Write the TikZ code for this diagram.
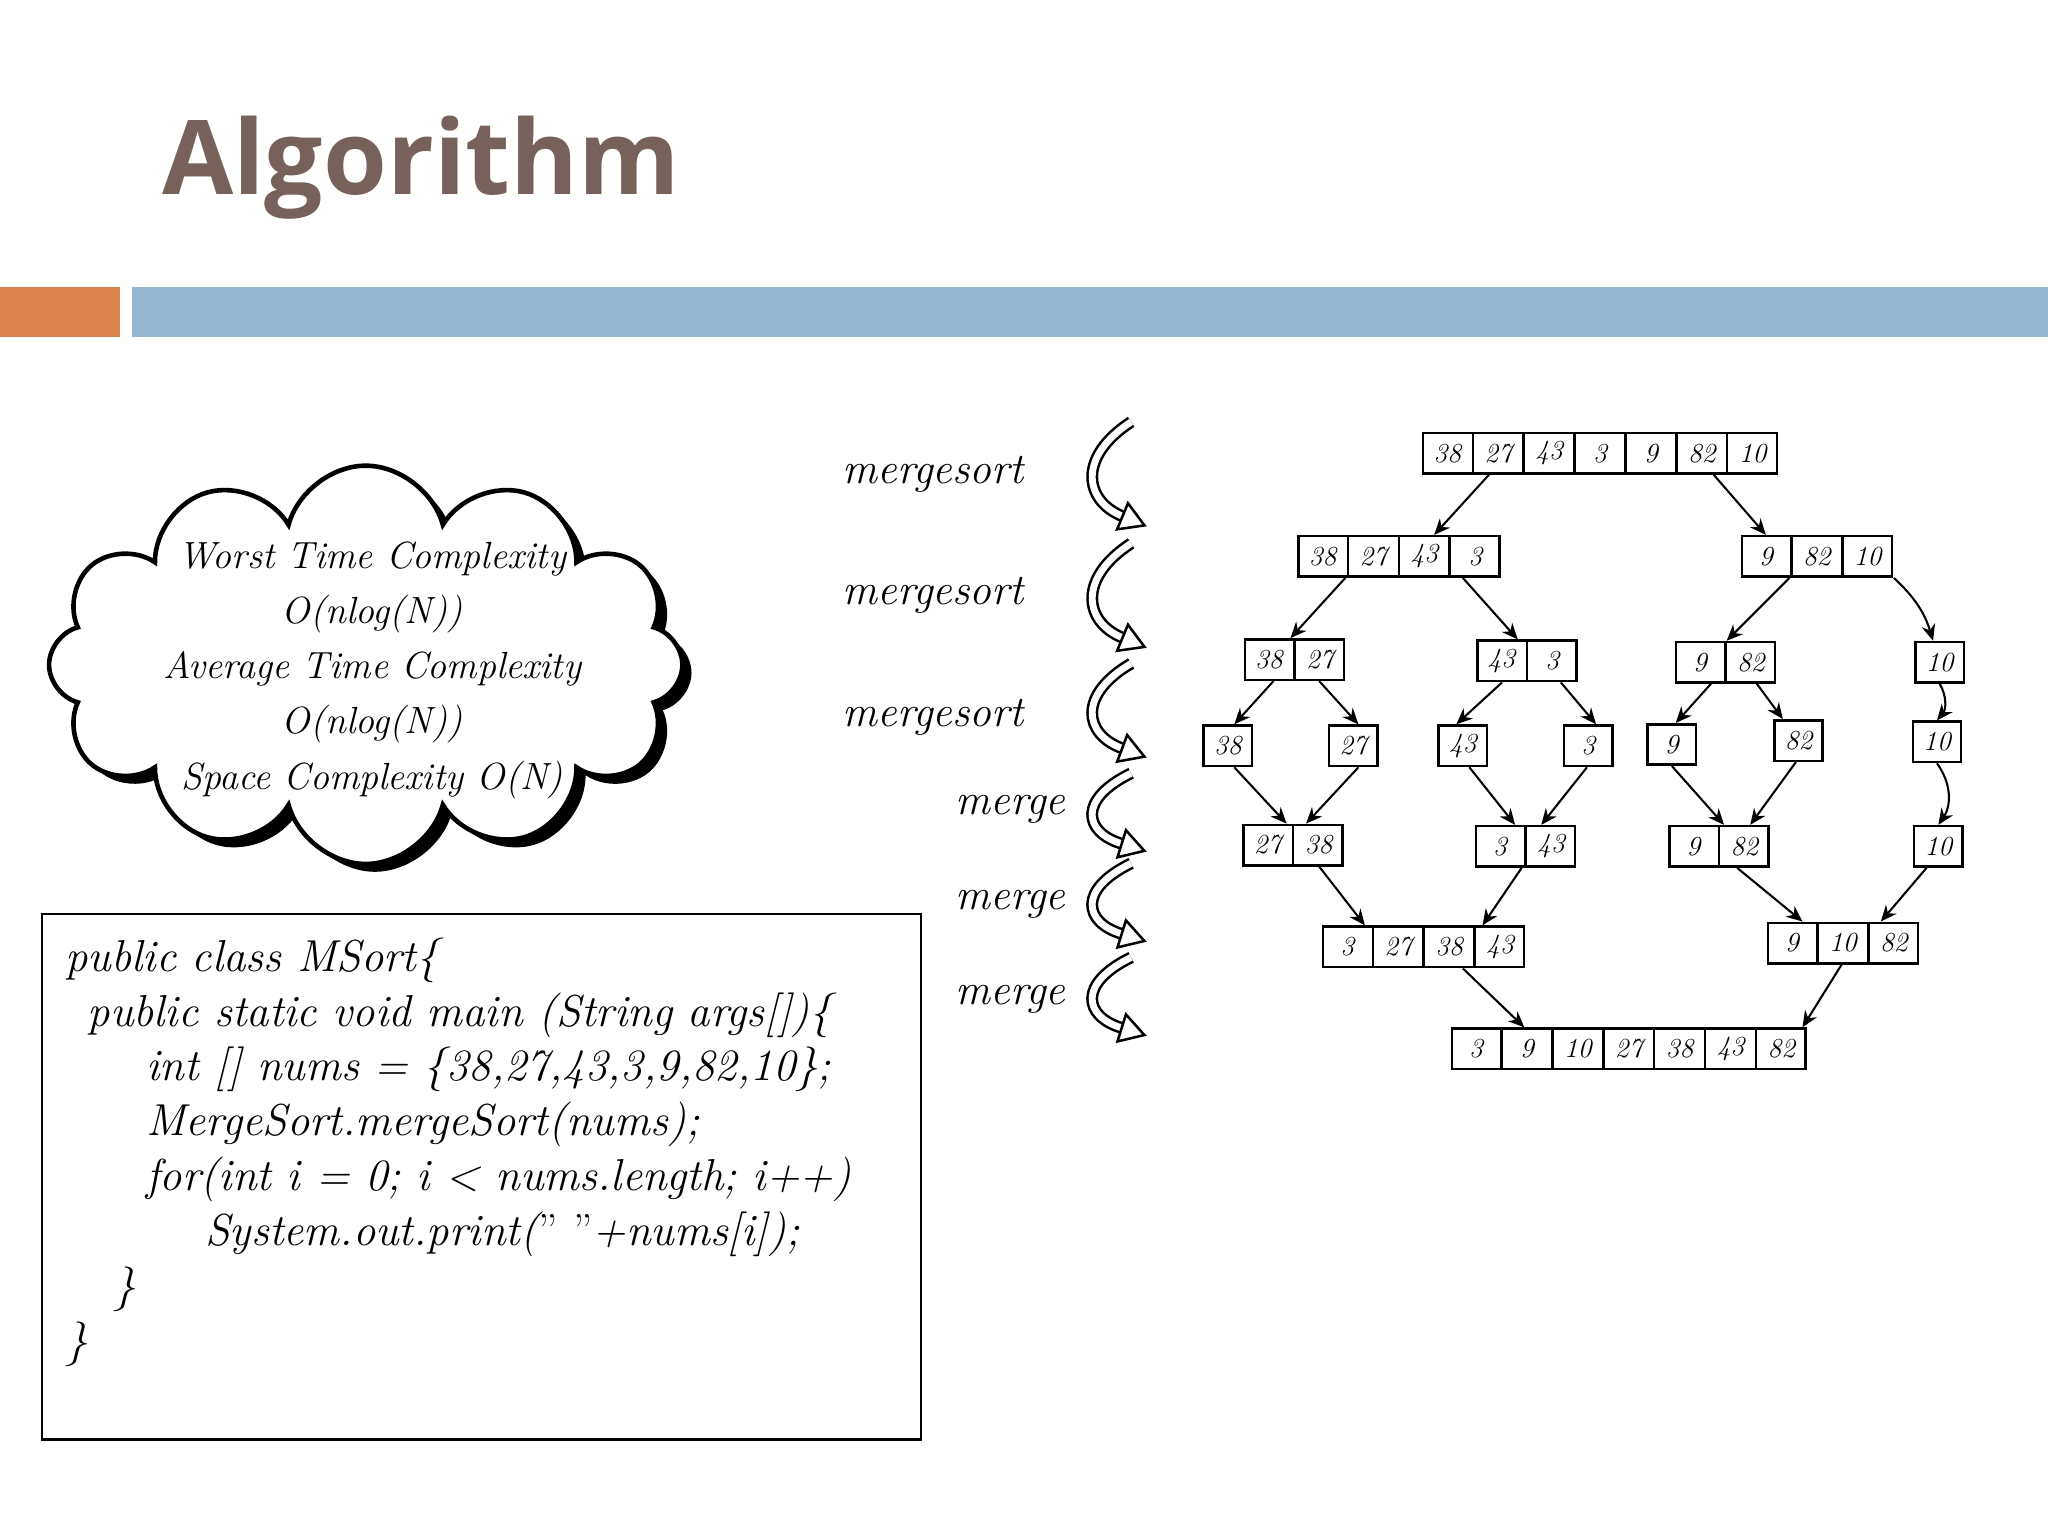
\documentclass[tikz,border=0pt]{standalone}
\usepackage{fontspec}
\newfontfamily\titlefont{Open Sans}
\usetikzlibrary{shapes.symbols,shapes.multipart,arrows.meta,calc}
\definecolor{titlebrown}{HTML}{76625A}
\definecolor{barorange}{HTML}{D9834C}
\definecolor{barblue}{HTML}{94B6D1}
\tikzset{
  arr/.style={draw, line width=1.1pt, rectangle split, rectangle split horizontal, text width=0.6cm, align=center, inner xsep=2pt, inner ysep=3pt, minimum height=0.62cm, font=\itshape\fontsize{12}{12}\selectfont},
  lnk/.style={-{Stealth[length=7pt,width=6pt]}, line width=0.9pt},
  hand/.style={font=\itshape\fontsize{19}{22}\selectfont},
  code/.style={font=\itshape\fontsize{19.5}{22}\selectfont},
  cl/.style={font=\itshape\fontsize{16.5}{20}\selectfont},
  twist/.style={line width=1.1pt, double=white, double distance=3pt, -{Triangle[open,length=12pt,width=14pt]}},
}
\begin{document}
\begin{tikzpicture}[x=0.02cm,y=-0.02cm]
\useasboundingbox (0,0) rectangle (1568,1176);
\fill[white] (0,0) rectangle (1568,1176);
\node[anchor=west, text=titlebrown, font=\titlefont\bfseries\fontsize{45}{45}\selectfont] (title) at (118,128) {Algorithm};
\fill[barorange] (0,220) rectangle (92,258);
\fill[barblue] (101,220) rectangle (1568,258);
% cloud
\node[cloud, cloud puffs=12, aspect=1.65, fill=black, minimum width=9.7cm, minimum height=6.1cm] (cloudshadow) at (287,515) {};
\node[cloud, cloud puffs=12, aspect=1.65, draw, fill=white, line width=2pt, minimum width=9.7cm, minimum height=6.1cm] (cloud) at (280,509) {};
\node[cl] (c1) at (285,428) {Worst Time Complexity};
\node[cl] (c2) at (285,470) {O(nlog(N))};
\node[cl] (c3) at (285,512) {Average Time Complexity};
\node[cl] (c4) at (285,554) {O(nlog(N))};
\node[cl] (c5) at (285,597) {Space Complexity O(N)};
% code
\draw[line width=1pt] (32,700) rectangle (705,1102);
\node[code,anchor=west] (l1) at (44,735) {public class MSort\{};
\node[code,anchor=west] (l2) at (61,777) {public static void main (String args[])\{};
\node[code,anchor=west] (l3) at (106,819) {int [] nums = \{38,27,43,3,9,82,10\};};
\node[code,anchor=west] (l4) at (106,861) {MergeSort.mergeSort(nums);};
\node[code,anchor=west] (l5) at (106,903) {for(int i = 0; i < nums.length; i++)};
\node[code,anchor=west] (l6) at (151,945) {System.out.print({\upshape\symbol{34}} {\upshape\symbol{34}}+nums[i]);};
\node[code,anchor=west] (l7) at (81,987) {\}};
\node[code,anchor=west] (l8) at (44,1029) {\}};
% labels
\node[hand,anchor=east] (m1) at (790,363) {mergesort};
\node[hand,anchor=east] (m2) at (790,456) {mergesort};
\node[hand,anchor=east] (m3) at (790,549) {mergesort};
\node[hand,anchor=east] (m4) at (822,620) {merge};
\node[hand,anchor=east] (m5) at (822,692) {merge};
\node[hand,anchor=east] (m6) at (822,765) {merge};
\foreach \y/\h in {363/40, 456/40, 544/36, 622/30, 691/30, 763/30}{
  \draw[twist] (866,\y-\h) .. controls (825,\y-\h/3) and (830,\y+\h/2) .. (878,\y+\h);
}
% tree
\node[arr, rectangle split parts=7] (a0) at (1225,347) {38\nodepart{two}27\nodepart{three}43\nodepart{four}3\nodepart{five}9\nodepart{six}82\nodepart{seven}10};
\node[arr, rectangle split parts=4] (b1) at (1071,426) {38\nodepart{two}27\nodepart{three}43\nodepart{four}3};
\node[arr, rectangle split parts=3] (b2) at (1391,426) {9\nodepart{two}82\nodepart{three}10};
\node[arr, rectangle split parts=2] (c1n) at (991,505) {38\nodepart{two}27};
\node[arr, rectangle split parts=2] (c2n) at (1169,506) {43\nodepart{two}3};
\node[arr, rectangle split parts=2] (c3n) at (1321,507) {9\nodepart{two}82};
\node[arr, rectangle split parts=1] (c4n) at (1485,507) {10};
\node[arr, rectangle split parts=1] (d1) at (940,571) {38};
\node[arr, rectangle split parts=1] (d2) at (1036,571) {27};
\node[arr, rectangle split parts=1] (d3) at (1120,571) {43};
\node[arr, rectangle split parts=1] (d4) at (1216,571) {3};
\node[arr, rectangle split parts=1] (d5) at (1280,570) {9};
\node[arr, rectangle split parts=1] (d6) at (1377,567) {82};
\node[arr, rectangle split parts=1] (d7) at (1483,568) {10};
\node[arr, rectangle split parts=2] (e1) at (990,647) {27\nodepart{two}38};
\node[arr, rectangle split parts=2] (e2) at (1168,648) {3\nodepart{two}43};
\node[arr, rectangle split parts=2] (e3) at (1316,648) {9\nodepart{two}82};
\node[arr, rectangle split parts=1] (e4) at (1484,648) {10};
\node[arr, rectangle split parts=4] (f1) at (1090,725) {3\nodepart{two}27\nodepart{three}38\nodepart{four}43};
\node[arr, rectangle split parts=3] (f2) at (1411,722) {9\nodepart{two}10\nodepart{three}82};
\node[arr, rectangle split parts=7] (g) at (1247,803) {3\nodepart{two}9\nodepart{three}10\nodepart{four}27\nodepart{five}38\nodepart{six}43\nodepart{seven}82};
% links
\draw[lnk] ($(a0.south)+(-85,0)$) -- ($(b1.north)+(27,0)$);
\draw[lnk] ($(a0.south)+(87,0)$) -- ($(b2.north)+(-39,0)$);
\draw[lnk] ($(b1.south)+(-41,0)$) -- ($(c1n.north)+(-3,0)$);
\draw[lnk] ($(b1.south)+(49,0)$) -- ($(c2n.north)+(-7,0)$);
\draw[lnk] ($(b2.south)+(-21,0)$) -- ($(c3n.north)+(1,0)$);
\draw[lnk] ($(b2.south)+(59,0)$) to[bend left=15] ($(c4n.north)+(-5,0)$);
\draw[lnk] ($(c1n.south)+(-16,0)$) -- ($(d1.north)+(5,0)$);
\draw[lnk] ($(c1n.south)+(19,0)$) -- ($(d2.north)+(4,0)$);
\draw[lnk] ($(c2n.south)+(-19,0)$) -- ($(d3.north)+(-5,0)$);
\draw[lnk] ($(c2n.south)+(26,0)$) -- ($(d4.north)+(6,0)$);
\draw[lnk] ($(c3n.south)+(-11,0)$) -- ($(d5.north)+(3,0)$);
\draw[lnk] ($(c3n.south)+(24,0)$) -- ($(d6.north)+(-12,0)$);
\draw[lnk] (c4n.south) to[bend left=35] (d7.north);
\draw[lnk] ($(d1.south)+(5,0)$) -- ($(e1.north)+(-5,0)$);
\draw[lnk] ($(d2.south)+(4,0)$) -- ($(e1.north)+(10,0)$);
\draw[lnk] ($(d3.south)+(5,0)$) -- ($(e2.north)+(-8,0)$);
\draw[lnk] ($(d4.south)+(-1,0)$) -- ($(e2.north)+(12,0)$);
\draw[lnk] (d5.south) -- ($(e3.north)+(4,0)$);
\draw[lnk] ($(d6.south)+(-2,0)$) -- ($(e3.north)+(24,0)$);
\draw[lnk] (d7.south) to[bend left=35] (e4.north);
\draw[lnk] ($(e1.south)+(20,0)$) -- ($(f1.north)+(-45,0)$);
\draw[lnk] ($(e2.south)+(-3,0)$) -- ($(f1.north)+(45,0)$);
\draw[lnk] ($(e3.south)+(14,0)$) -- ($(f2.north)+(-31,0)$);
\draw[lnk] ($(e4.south)+(-9,0)$) -- ($(f2.north)+(29,0)$);
\draw[lnk] ($(f1.south)+(30,0)$) -- ($(g.north)+(-80,0)$);
\draw[lnk] ($(f2.south)+(-1,0)$) -- ($(g.north)+(133,0)$);
\end{tikzpicture}
\end{document}
